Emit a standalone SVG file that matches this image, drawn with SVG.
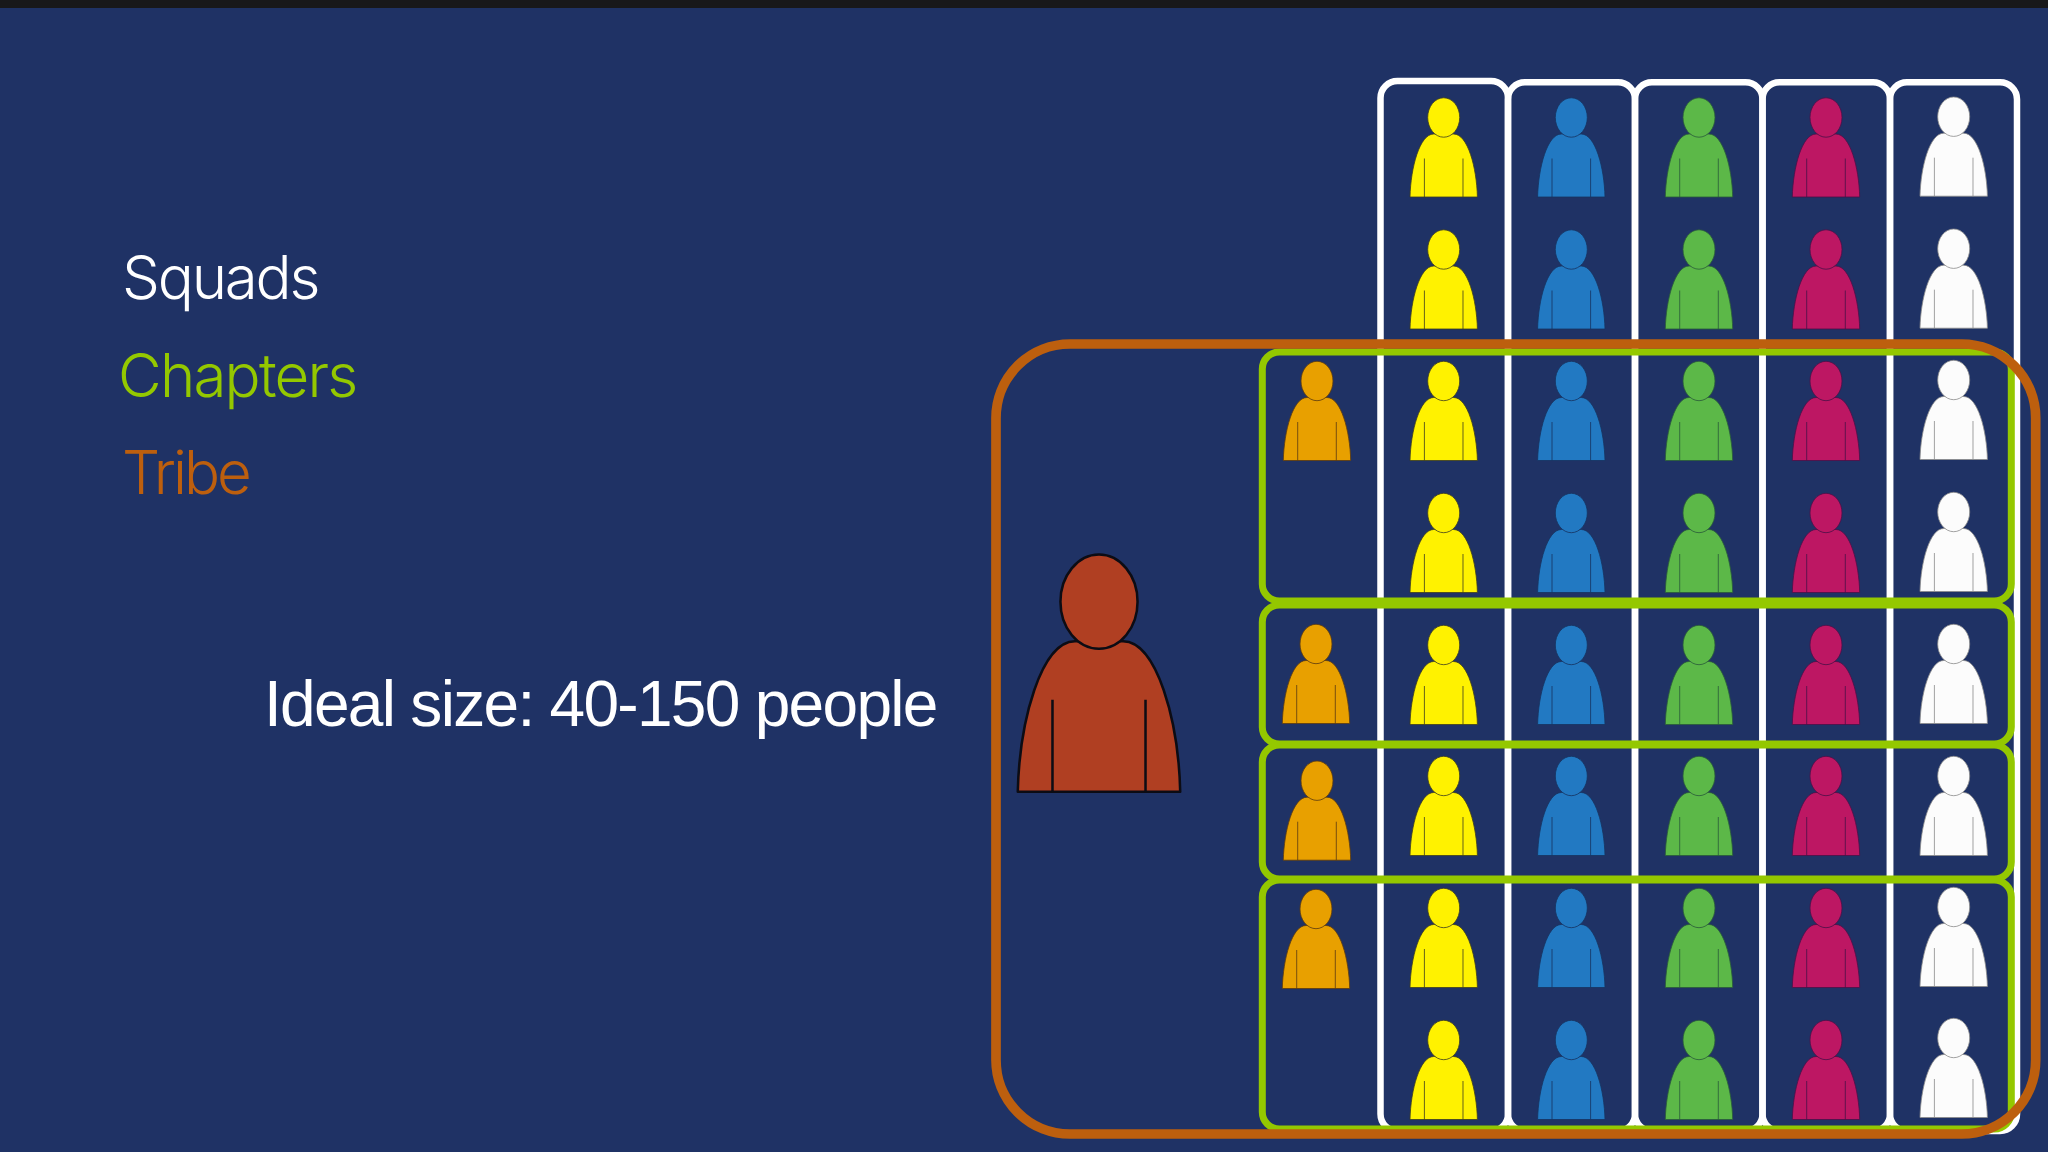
<svg xmlns="http://www.w3.org/2000/svg" width="2048" height="1152" viewBox="0 0 2048 1152">
<style>
.p{stroke-width:.8;stroke-linejoin:round}
.sq{fill:none;stroke:#fff;stroke-width:6.500}
.ch{fill:none;stroke:#94c800;stroke-width:7}
.tr{fill:none;stroke:#bd5f0e;stroke-width:9.700}
.t{font-family:"Inter","Lato",sans-serif;font-weight:300;font-size:60px}
.i{font-family:"Liberation Sans",Arial,sans-serif;font-size:64px}
.y{fill:#fff200;stroke:#3c3c20}.b{fill:#2279c2;stroke:#17325f}.g{fill:#5cb848;stroke:#2a5a3a}.m{fill:#bd1763;stroke:#4a1048}.w{fill:#fcfcfc;stroke:#8a8a8a}.o{fill:#e8a000;stroke:#5a3a10}.r{fill:#b03f22;stroke:#0c0c14;stroke-width:1.050}
</style>
<defs>
<g id="person">
<path d="M-33.7 79.500C-33 50-24 16.500-10 16.500H10C24 16.500 33 50 33.700 79.500Z"/>
<path d="M-19.300 41V79.500M19.300 41V79.500" fill="none"/>
<ellipse cx="0" cy="0" rx="16" ry="19.700"/>
</g>
</defs>
<rect width="2048" height="1152" fill="#1f3265"/>
<rect width="2048" height="8" fill="#18181a"/>
<text class="t" x="122" y="299" fill="#fff" letter-spacing="-2.200">Squads</text>
<text class="t" x="118" y="397" fill="#94c800" letter-spacing="-1.800">Chapters</text>
<text class="t" x="122" y="494" fill="#bd5f0e" letter-spacing="-3">Tribe</text>
<text class="i" x="264" y="726" fill="#fff" letter-spacing="-1.700">Ideal size: 40-150 people</text>
<g id="squads">
<rect class="sq" x="1380.500" y="81" width="127.500" height="1050" rx="17"/>
<rect class="sq" x="1508" y="82.300" width="127" height="1048.700" rx="17"/>
<rect class="sq" x="1635" y="82.300" width="127.500" height="1048.700" rx="17"/>
<rect class="sq" x="1762.500" y="82.300" width="127.500" height="1048.700" rx="17"/>
<rect class="sq" x="1890" y="82.300" width="127" height="1048.700" rx="17"/>
</g>
<g id="persons">
<g id="lead"><use href="#person" class="p r" transform="translate(1099 601.700) scale(2.410 2.390)"/></g>
<g id="o1"><use href="#person" class="p o" transform="translate(1317 381)"/></g>
<g id="o2"><use href="#person" class="p o" transform="translate(1316 644)"/></g>
<g id="o3"><use href="#person" class="p o" transform="translate(1317 780.700)"/></g>
<g id="o4"><use href="#person" class="p o" transform="translate(1316 909)"/></g>
<g id="y1"><use href="#person" class="p y" transform="translate(1443.700 117.500)"/></g>
<g id="y2"><use href="#person" class="p y" transform="translate(1443.700 249.500)"/></g>
<g id="y3"><use href="#person" class="p y" transform="translate(1443.700 381)"/></g>
<g id="y4"><use href="#person" class="p y" transform="translate(1443.700 513)"/></g>
<g id="y5"><use href="#person" class="p y" transform="translate(1443.700 645)"/></g>
<g id="y6"><use href="#person" class="p y" transform="translate(1443.700 776)"/></g>
<g id="y7"><use href="#person" class="p y" transform="translate(1443.700 908)"/></g>
<g id="y8"><use href="#person" class="p y" transform="translate(1443.700 1040)"/></g>
<g id="b1"><use href="#person" class="p b" transform="translate(1571.300 117.500)"/></g>
<g id="b2"><use href="#person" class="p b" transform="translate(1571.300 249.500)"/></g>
<g id="b3"><use href="#person" class="p b" transform="translate(1571.300 381)"/></g>
<g id="b4"><use href="#person" class="p b" transform="translate(1571.300 513)"/></g>
<g id="b5"><use href="#person" class="p b" transform="translate(1571.300 645)"/></g>
<g id="b6"><use href="#person" class="p b" transform="translate(1571.300 776)"/></g>
<g id="b7"><use href="#person" class="p b" transform="translate(1571.300 908)"/></g>
<g id="b8"><use href="#person" class="p b" transform="translate(1571.300 1040)"/></g>
<g id="g1"><use href="#person" class="p g" transform="translate(1699 117.500)"/></g>
<g id="g2"><use href="#person" class="p g" transform="translate(1699 249.500)"/></g>
<g id="g3"><use href="#person" class="p g" transform="translate(1699 381)"/></g>
<g id="g4"><use href="#person" class="p g" transform="translate(1699 513)"/></g>
<g id="g5"><use href="#person" class="p g" transform="translate(1699 645)"/></g>
<g id="g6"><use href="#person" class="p g" transform="translate(1699 776)"/></g>
<g id="g7"><use href="#person" class="p g" transform="translate(1699 908)"/></g>
<g id="g8"><use href="#person" class="p g" transform="translate(1699 1040)"/></g>
<g id="m1"><use href="#person" class="p m" transform="translate(1826 117.500)"/></g>
<g id="m2"><use href="#person" class="p m" transform="translate(1826 249.500)"/></g>
<g id="m3"><use href="#person" class="p m" transform="translate(1826 381)"/></g>
<g id="m4"><use href="#person" class="p m" transform="translate(1826 513)"/></g>
<g id="m5"><use href="#person" class="p m" transform="translate(1826 645)"/></g>
<g id="m6"><use href="#person" class="p m" transform="translate(1826 776)"/></g>
<g id="m7"><use href="#person" class="p m" transform="translate(1826 908)"/></g>
<g id="m8"><use href="#person" class="p m" transform="translate(1826 1040)"/></g>
<g id="w1"><use href="#person" class="p w" transform="translate(1953.700 116.700)"/></g>
<g id="w2"><use href="#person" class="p w" transform="translate(1953.700 248.700)"/></g>
<g id="w3"><use href="#person" class="p w" transform="translate(1953.700 380)"/></g>
<g id="w4"><use href="#person" class="p w" transform="translate(1953.700 512)"/></g>
<g id="w5"><use href="#person" class="p w" transform="translate(1953.700 644)"/></g>
<g id="w6"><use href="#person" class="p w" transform="translate(1953.700 776)"/></g>
<g id="w7"><use href="#person" class="p w" transform="translate(1953.700 907)"/></g>
<g id="w8"><use href="#person" class="p w" transform="translate(1953.700 1038)"/></g>
</g>
<g id="chapters">
<rect class="ch" x="1262.300" y="352" width="749" height="249" rx="17"/>
<rect class="ch" x="1262.300" y="605" width="749" height="139" rx="17"/>
<rect class="ch" x="1262.300" y="745" width="749" height="134" rx="17"/>
<rect class="ch" x="1262.300" y="880" width="749" height="249" rx="17"/>
</g>
<g id="tribe"><rect class="tr" x="996" y="344" width="1039.700" height="790" rx="74"/></g>
</svg>
